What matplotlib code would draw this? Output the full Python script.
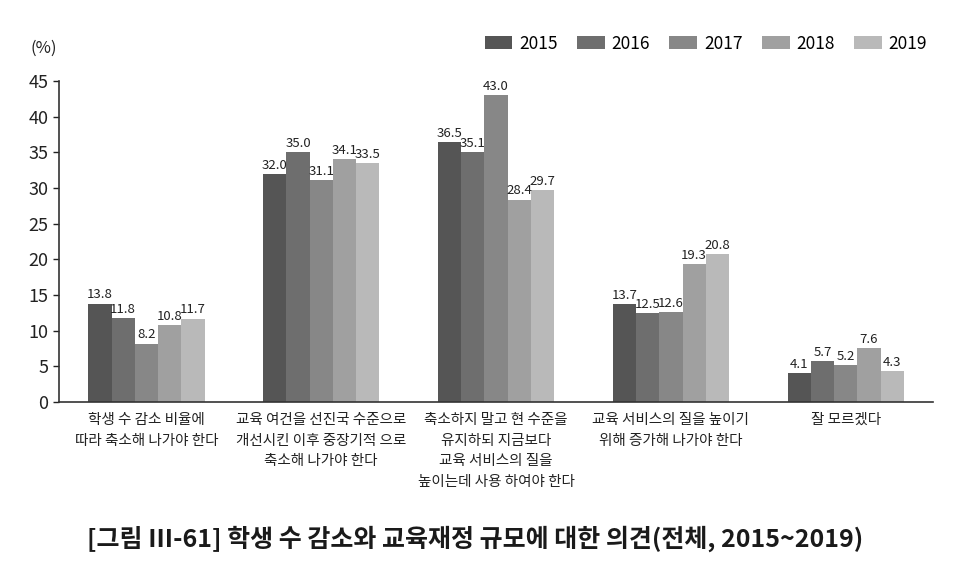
import matplotlib
matplotlib.use("Agg")
import matplotlib.pyplot as plt
import numpy as np

plt.rcParams['font.family'] = ['Noto Sans CJK KR', 'DejaVu Sans']

categories = [
    "학생 수 감소 비율에\n따라 축소해 나가야 한다",
    "교육 여건을 선진국 수준으로\n개선시킨 이후 중장기적 으로\n축소해 나가야 한다",
    "축소하지 말고 현 수준을\n유지하되 지금보다\n교육 서비스의 질을\n높이는데 사용 하여야 한다",
    "교육 서비스의 질을 높이기\n위해 증가해 나가야 한다",
    "잘 모르겠다",
]
years = ["2015", "2016", "2017", "2018", "2019"]
v2015 = [13.8, 32.0, 36.5, 13.7, 4.1]
v2016 = [11.8, 35.0, 35.1, 12.5, 5.7]
v2017 = [8.2, 31.1, 43.0, 12.6, 5.2]
v2018 = [10.8, 34.1, 28.4, 19.3, 7.6]
v2019 = [11.7, 33.5, 29.7, 20.8, 4.3]
series = [v2015, v2016, v2017, v2018, v2019]
colors = ["#555555", "#6e6e6e", "#878787", "#a0a0a0", "#b9b9b9"]
yticks = [0, 5, 10, 15, 20, 25, 30, 35, 40, 45]

fig = plt.figure(figsize=(9.7, 5.84), dpi=100)
ax = fig.add_axes([0.0608, 0.3116, 0.9012, 0.5494])

x = np.arange(len(categories))
w = 0.133
for i, (vals, c, yr) in enumerate(zip(series, colors, years)):
    pos = x + (i - 2) * w
    ax.bar(pos, vals, width=w, color=c, label=yr, zorder=2)
    for p, v in zip(pos, vals):
        ax.text(p, v + 0.3, f"{v:.1f}", ha="center", va="bottom",
                fontsize=9.5, color="#222222")

ax.set_xlim(-0.5, len(categories) - 0.5)
ax.set_ylim(0, 45)
ax.set_yticks(yticks)
ax.set_yticklabels([str(t) for t in yticks], fontsize=13, color="#222222")
ax.tick_params(axis="y", direction="out", length=4, width=1, colors="#222222")
ax.set_xticks(x)
ax.set_xticklabels(categories, fontsize=10.5, color="#222222", linespacing=1.6)
ax.tick_params(axis="x", length=0, pad=8)
for s in ["top", "right"]:
    ax.spines[s].set_visible(False)
ax.spines["left"].set_color("#333333")
ax.spines["bottom"].set_color("#333333")
ax.spines["left"].set_linewidth(1.2)
ax.spines["bottom"].set_linewidth(1.2)

fig.text(0.031, 0.918, "(%)", fontsize=12, color="#222222", ha="left", va="center")

leg = fig.legend(loc="center right", bbox_to_anchor=(0.972, 0.925), ncol=5,
                 frameon=False, fontsize=12.5, handlelength=1.6, handleheight=0.8,
                 columnspacing=1.1, handletextpad=0.4)

fig.text(0.49, 0.078, "[그림 Ⅲ-61] 학생 수 감소와 교육재정 규모에 대한 의견(전체, 2015~2019)",
         ha="center", va="center", fontsize=18, fontweight="bold", color="#1a1a1a")

fig.savefig("out.png", dpi=100)
